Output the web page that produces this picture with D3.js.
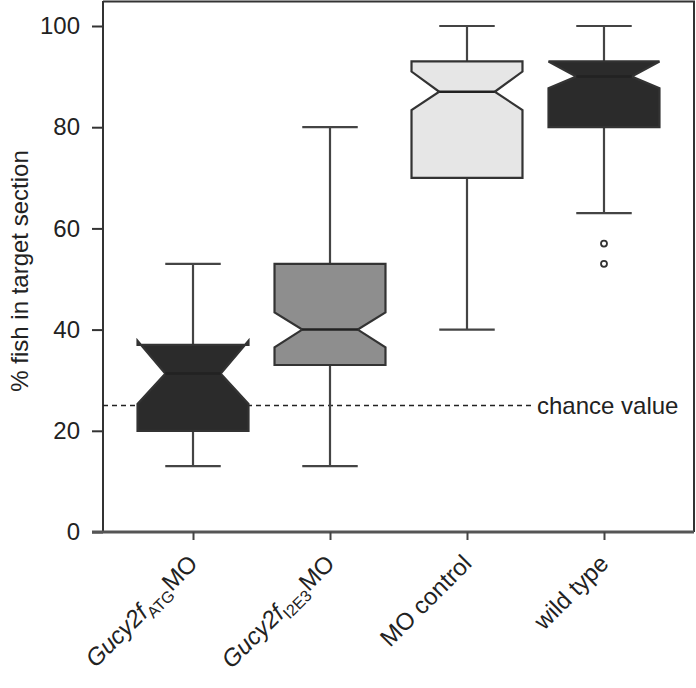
<!DOCTYPE html>
<html>
<head>
<meta charset="utf-8">
<script src="https://cdn.jsdelivr.net/npm/d3@7"></script>
<style>
	body { margin: 0; background: #fff; }
	#chartDiv { width: 696px; height: 688px; }
	text { font-family: "Liberation Sans", Arial, Helvetica, sans-serif; fill: #222; }
</style>
</head>
<body>
<div id="chartDiv"></div>
<script>
// groups and their summary stats
const groups = ['atg', 'i2e3', 'ctrl', 'wt'];
const labelMain = ['Gucy2f', 'Gucy2f', 'MO control', 'wild type'];
const labelSub = ['ATG', 'I2E3', '', ''];
const labelTail = ['MO', 'MO', '', ''];
const whiskerLow = [13, 13, 40, 63];
const q1 = [20, 33, 70, 80];
const median = [31.3, 40, 87, 90];
const q3 = [37, 53, 93, 93];
const whiskerHigh = [53, 80, 100, 100];
const notchLow = [25.3, 36.5, 83.4, 87.7];
const notchHigh = [37.8, 43.4, 91, 93];
const outliers = [[], [], [], [57, 53]];
const fills = ['#2b2b2b', '#8e8e8e', '#e6e6e6', '#2b2b2b'];
const yTicks = [0, 20, 40, 60, 80, 100];
const chanceValue = 25;

const margin = { left: 103, right: 2, top: 1, bottom: 156 };
const W = 696, H = 688;
const fontSize = '24px';

const svg = d3.select('#chartDiv').append('svg')
	.attr('width', W)
	.attr('height', H);

const x = d3.scalePoint()
	.domain(groups)
	.range([margin.left, W - margin.right])
	.padding(0.657);

const y = d3.scaleLinear()
	.domain([0, 100])
	.range([532, 26]);

const boxW = x.step() * 0.81;
const ink = '#333';

// frame (top + right)
svg.append('path')
	.attr('d', `M${margin.left},${margin.top + 0.5} H${W - margin.right} V${y(0)}`)
	.attr('fill', 'none')
	.attr('stroke', ink)
	.attr('stroke-width', 2);

// y axis
const yAxis = svg.append('g')
	.attr('transform', `translate(${margin.left},0)`)
	.call(d3.axisLeft(y).tickValues(yTicks).tickSize(11).tickPadding(12));
yAxis.select('.domain').attr('stroke', ink).attr('stroke-width', 2)
	.attr('d', `M0,${y(0)}V${margin.top}`);
yAxis.selectAll('.tick line').attr('stroke', ink).attr('stroke-width', 2);
yAxis.selectAll('.tick text').style('font-size', fontSize).attr('fill', '#222')
	.style('font-family', '"Liberation Sans", Arial, sans-serif');

// x axis
const xAxis = svg.append('g')
	.attr('transform', `translate(0,${y(0)})`)
	.call(d3.axisBottom(x).tickSize(8).tickFormat(''));
xAxis.select('.domain').attr('stroke', '#555').attr('stroke-width', 3)
	.attr('d', `M${margin.left - 11},0H${W - margin.right}`);
xAxis.selectAll('.tick line').attr('stroke', '#444').attr('stroke-width', 2);

// rotated category labels
groups.forEach((g, i) => {
	const t = svg.append('text')
		.attr('transform', `translate(${x(g) + 6},${y(0) + 33}) rotate(-45)`)
		.attr('text-anchor', 'end')
		.style('font-size', fontSize);
	if (labelSub[i]) {
		t.append('tspan').style('font-style', 'italic').text(labelMain[i]);
		t.append('tspan').attr('dy', 6).style('font-size', '16px').text(labelSub[i]);
		t.append('tspan').attr('dy', -6).text(labelTail[i]);
	} else {
		t.text(labelMain[i]);
	}
});

// y axis title
svg.append('text')
	.attr('transform', `translate(28,${y(50) - 8}) rotate(-90)`)
	.attr('text-anchor', 'middle')
	.style('font-size', fontSize)
	.text('% fish in target section');

// chance line
svg.append('line')
	.attr('x1', margin.left).attr('x2', 535)
	.attr('y1', y(chanceValue)).attr('y2', y(chanceValue))
	.attr('stroke', '#222')
	.attr('stroke-width', 1.6)
	.attr('stroke-dasharray', '5,4');
svg.append('text')
	.attr('x', 537).attr('y', y(chanceValue) + 8)
	.style('font-size', fontSize)
	.text('chance value');

// boxes
const boxes = svg.append('g').attr('class', 'boxes');
groups.forEach((g, i) => {
	const cx = x(g);
	const half = boxW / 2;
	const inner = half / 2;
	const bg = boxes.append('g');

	// whiskers
	bg.append('line')
		.attr('x1', cx).attr('x2', cx)
		.attr('y1', y(whiskerLow[i])).attr('y2', y(q1[i]))
		.attr('stroke', '#444').attr('stroke-width', 2.2);
	bg.append('line')
		.attr('x1', cx).attr('x2', cx)
		.attr('y1', y(q3[i])).attr('y2', y(whiskerHigh[i]))
		.attr('stroke', '#444').attr('stroke-width', 2.2);
	[whiskerLow[i], whiskerHigh[i]].forEach(v => {
		bg.append('line')
			.attr('x1', cx - inner).attr('x2', cx + inner)
			.attr('y1', y(v)).attr('y2', y(v))
			.attr('stroke', '#444').attr('stroke-width', 2.2);
	});

	// notched box
	const pts = [
		[cx - half, y(q1[i])],
		[cx - half, y(notchLow[i])],
		[cx - inner, y(median[i])],
		[cx - half, y(notchHigh[i])],
		[cx - half, y(q3[i])],
		[cx + half, y(q3[i])],
		[cx + half, y(notchHigh[i])],
		[cx + inner, y(median[i])],
		[cx + half, y(notchLow[i])],
		[cx + half, y(q1[i])]
	];
	bg.append('path')
		.attr('d', d3.line()(pts) + 'Z')
		.attr('fill', fills[i])
		.attr('stroke', ink)
		.attr('stroke-width', 2.2)
		.attr('stroke-linejoin', 'miter');
	bg.append('line')
		.attr('x1', cx - inner).attr('x2', cx + inner)
		.attr('y1', y(median[i])).attr('y2', y(median[i]))
		.attr('stroke', '#222').attr('stroke-width', 2.5);

	// outliers
	bg.selectAll('circle')
		.data(outliers[i])
		.enter()
		.append('circle')
		.attr('cx', cx)
		.attr('cy', d => y(d))
		.attr('r', 3)
		.attr('fill', '#fff')
		.attr('stroke', '#333')
		.attr('stroke-width', 1.8);
});
</script>
</body>
</html>
